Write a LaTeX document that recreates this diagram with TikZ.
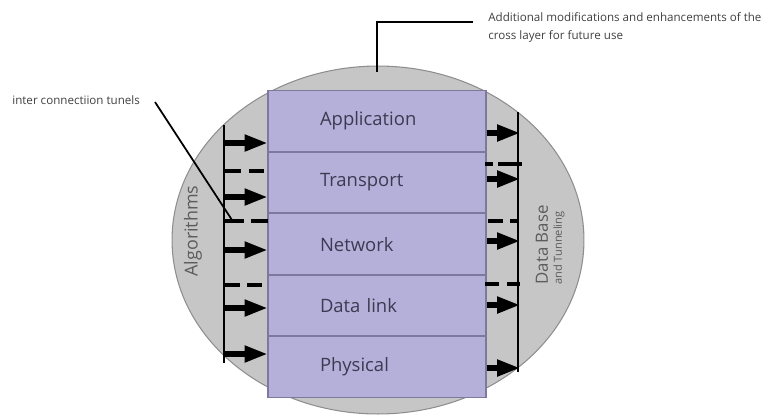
\documentclass[tikz,border=0pt]{standalone}
\usepackage{fontspec}
\setmainfont{Open Sans}
\usepackage{xcolor}
\usetikzlibrary{positioning, arrows.meta, calc}
\definecolor{osi-fill}{HTML}{B4B0D9}
\definecolor{osi-line}{HTML}{7C789E}
\definecolor{osi-text}{HTML}{3C3A52}
\definecolor{shell-fill}{HTML}{C6C6C6}
\definecolor{shell-line}{HTML}{8E8E8E}
\definecolor{side-text}{HTML}{5C5C5C}
\definecolor{note-text}{HTML}{404040}

\begin{document}
\begin{tikzpicture}[x=0.02cm, y=-0.02cm,
    layer/.style={draw=osi-line, line width=0.6pt, fill=osi-fill, minimum width=4.36cm,
        minimum height=1.21cm, inner xsep=1.04cm, inner ysep=0pt, text width=2.28cm,
        align=left, text=osi-text, font=\fontsize{10.5}{12}\selectfont},
    busline/.style={line width=1.3pt},
    busarrow/.style={line width=3pt, -{Triangle[length=13pt, width=9pt]}},
    busdash/.style={line width=1.8pt},
    note/.style={text=note-text, font=\fontsize{6.6}{10.2}\selectfont, align=left, inner xsep=0pt}]
    \useasboundingbox (0,0) rectangle (764,417);

    % outer shell
    \draw[fill=shell-fill, draw=shell-line, line width=0.6pt] (378,240) ellipse [x radius=4.12cm, y radius=3.48cm];

    % protocol stack
    \node[layer] (app) at (377,121) {Application};
    \node[layer, below=0pt of app] (trans) {Transport};
    \node[layer, below=0pt of trans] (net) {Network};
    \node[layer, below=0pt of net] (dlink) {Data link};
    \node[layer, below=0pt of dlink] (phys) {Physical};

    % left bus
    \coordinate (lbtop) at (224,125);
    \coordinate (lbbot) at (224,363);
    \draw[busline] (lbtop) -- (lbbot);
    \foreach \y in {143,197,250,308,354} {
        \draw[busarrow] (224,\y) -- (app.west |- 0,\y);
    }
    \foreach \y/\a/\b/\c in {171/241/249/264, 221/244/251/268, 285/240/247/262} {
        \draw[busdash] (224,\y) -- (\a,\y);
        \draw[busdash] (\b,\y) -- (\c,\y);
    }

    % right bus
    \coordinate (rbtop) at (518,112);
    \coordinate (rbbot) at (518,372);
    \draw[busline] (rbtop) -- (rbbot);
    \foreach \y in {133,179,241,305,368} {
        \draw[busarrow] (app.east |- 0,\y) -- (520,\y);
    }
    \foreach \y/\a/\b/\c/\d in {164/485/493/498/522, 221/488/503/510/518, 284/485/499/507/520} {
        \draw[busdash] (\a,\y) -- (\b,\y);
        \draw[busdash] (\c,\y) -- (\d,\y);
    }

    % side labels
    \node[rotate=90, text=side-text, font=\fontsize{10.2}{12}\selectfont] (alg) at (193,231) {Algorithms};
    \node[rotate=90, text=side-text, font=\fontsize{9.6}{11}\selectfont] (db) at (542,245) {Data Base};
    \node[rotate=90, text=side-text, font=\fontsize{6.3}{7}\selectfont] (tun) at (559,248) {and Tunneling};

    % annotations
    \node[note, anchor=west] (tunnote) at (12,100) {inter connectiion tunels};
    \coordinate (tunstart) at (155,102);
    \coordinate (tunend) at (232,220);
    \draw[line width=1pt] (tunstart) -- (tunend);

    \node[note, anchor=west] (future) at (488,27) {Additional modifications and enhancements of the\\cross layer for future use};
    \coordinate (shelltop) at (377,72);
    \draw[line width=1.2pt] (shelltop) |- (473,22);
\end{tikzpicture}
\end{document}
